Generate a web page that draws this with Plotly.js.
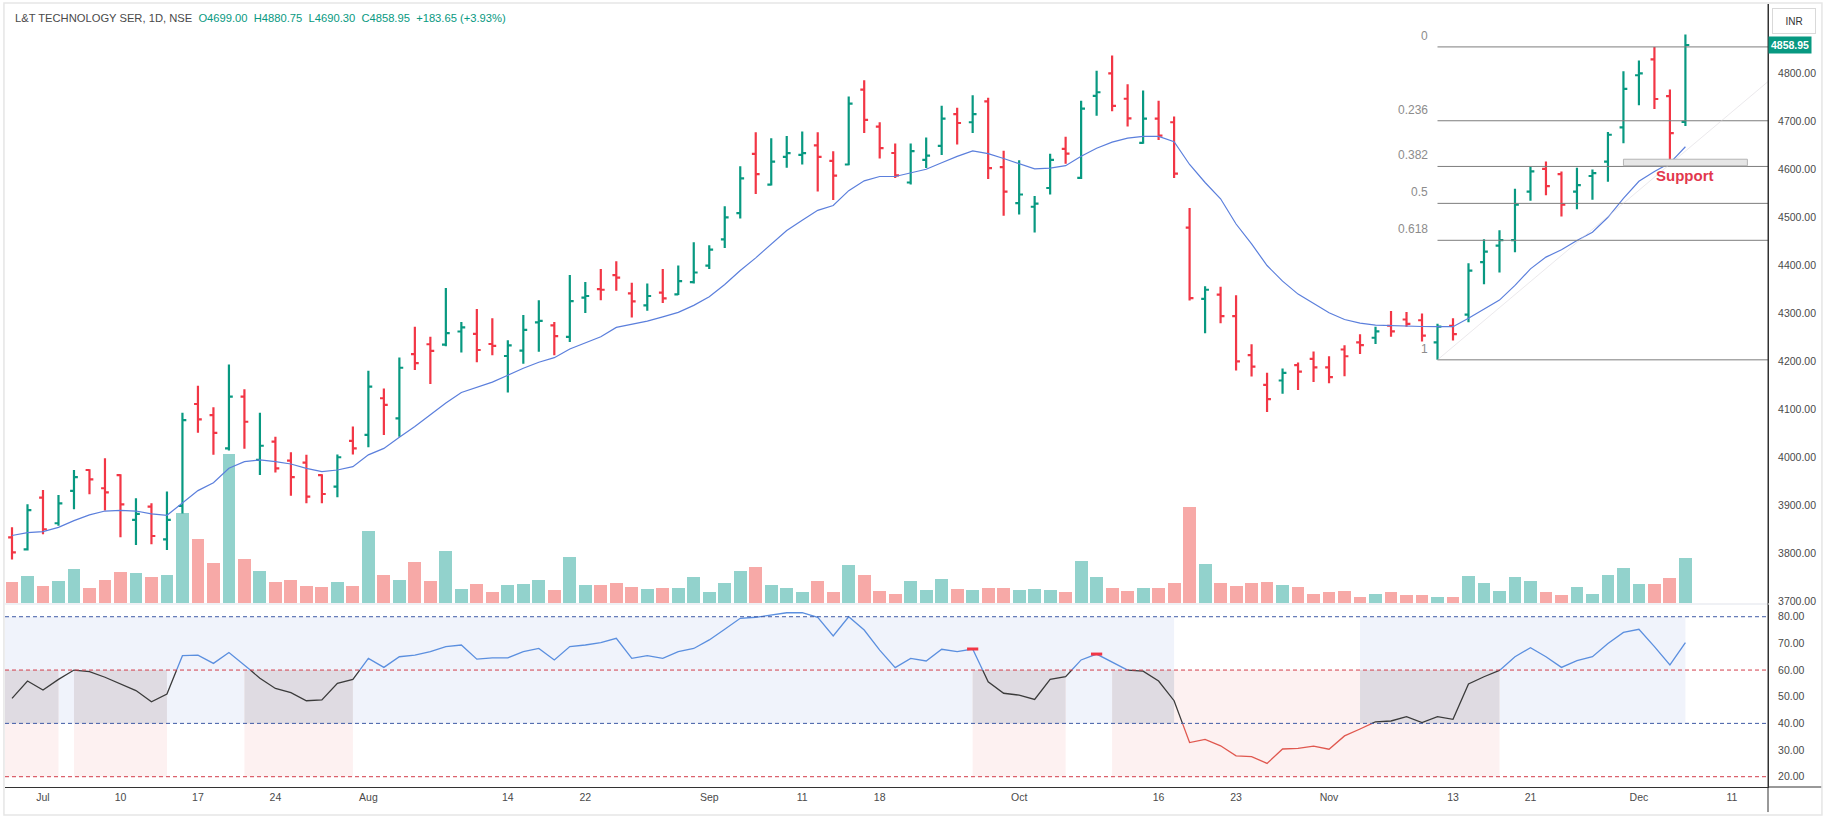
<!DOCTYPE html>
<html>
<head>
<meta charset="utf-8">
<title>L&amp;T Technology Services, 1D</title>
<script src="https://cdn.plot.ly/plotly-3.0.1.min.js"></script>
<style>
  html, body { margin: 0; padding: 0; background: #fff; }
  #chart { width: 1826px; height: 818px; }
</style>
</head>
<body>
<div id="chart"></div>
<script>
// NSE daily sessions on the chart
var dates = [
  '2023-06-28', '2023-06-30',
  '2023-07-03', '2023-07-04', '2023-07-05', '2023-07-06', '2023-07-07', '2023-07-10', '2023-07-11', '2023-07-12', '2023-07-13', '2023-07-14',
  '2023-07-17', '2023-07-18', '2023-07-19', '2023-07-20', '2023-07-21', '2023-07-24', '2023-07-25', '2023-07-26', '2023-07-27', '2023-07-28', '2023-07-31',
  '2023-08-01', '2023-08-02', '2023-08-03', '2023-08-04', '2023-08-07', '2023-08-08', '2023-08-09', '2023-08-10', '2023-08-11', '2023-08-14', '2023-08-16',
  '2023-08-17', '2023-08-18', '2023-08-21', '2023-08-22', '2023-08-23', '2023-08-24', '2023-08-25', '2023-08-28', '2023-08-29', '2023-08-30', '2023-08-31',
  '2023-09-01', '2023-09-04', '2023-09-05', '2023-09-06', '2023-09-07', '2023-09-08', '2023-09-11', '2023-09-12', '2023-09-13', '2023-09-14', '2023-09-15',
  '2023-09-18', '2023-09-20', '2023-09-21', '2023-09-22', '2023-09-25', '2023-09-26', '2023-09-27', '2023-09-28', '2023-09-29',
  '2023-10-03', '2023-10-04', '2023-10-05', '2023-10-06', '2023-10-09', '2023-10-10', '2023-10-11', '2023-10-12', '2023-10-13', '2023-10-16',
  '2023-10-17', '2023-10-18', '2023-10-19', '2023-10-20', '2023-10-23', '2023-10-25', '2023-10-26', '2023-10-27', '2023-10-30', '2023-10-31',
  '2023-11-01', '2023-11-02', '2023-11-03', '2023-11-06', '2023-11-07', '2023-11-08', '2023-11-09', '2023-11-10', '2023-11-13', '2023-11-15',
  '2023-11-16', '2023-11-17', '2023-11-20', '2023-11-21', '2023-11-22', '2023-11-23', '2023-11-24', '2023-11-28', '2023-11-29', '2023-11-30',
  '2023-12-01', '2023-12-04', '2023-12-05', '2023-12-06'
];
// sessions after the last bar (empty space on the right of the chart)
var futureDates = ['2023-12-07', '2023-12-08', '2023-12-11', '2023-12-12', '2023-12-13', '2023-12-14'];

var openP = [
  3833, 3808, 3916, 3862.5, 3930, 3973.5, 3935.5, 3963, 3869.5, 3897,
  3829, 3898.5, 4111, 4088, 4018.5, 4126.5, 3994.5, 4032.5, 3993, 3989,
  3963, 3939, 4034, 4046.5, 4123, 4081, 4215, 4235.5, 4234.5, 4262,
  4257, 4236, 4211, 4222, 4281, 4275, 4251, 4332.5, 4350.5, 4379.5,
  4341.5, 4316.5, 4343, 4339.5, 4365, 4399.5, 4454, 4508.5, 4632, 4568,
  4626, 4630, 4650, 4617.5, 4610, 4766, 4689, 4634, 4572.5, 4619.5,
  4649, 4715, 4698, 4741.5, 4604.5, 4529.5, 4522, 4561, 4642.5, 4582,
  4753, 4800, 4747, 4655, 4705.5, 4698, 4478.5, 4330, 4339, 4294,
  4213, 4151, 4160, 4192, 4205, 4187.5, 4224.5, 4239.5, 4249, 4274,
  4287, 4285.5, 4239.5, 4274, 4297, 4406.5, 4441, 4452.5, 4553.5, 4601,
  4590, 4553.5, 4586, 4616, 4687.5, 4796, 4829, 4752.5, 4699
];
var highP = [
  3854, 3902, 3932, 3921.5, 3973.5, 3975, 3998, 3964.5, 3914.5, 3904,
  3928.5, 4093, 4149, 4104, 4193.5, 4141.5, 4093, 4043, 4010.5, 4005,
  3964.5, 4006, 4064, 4180.5, 4143.5, 4208, 4272, 4251, 4352.5, 4282,
  4309, 4289.5, 4244, 4296.5, 4327, 4282, 4380, 4365, 4392.5, 4408.5,
  4363.5, 4362, 4392.5, 4399.5, 4448, 4442, 4523, 4606.5, 4677, 4664.5,
  4669.5, 4679, 4677, 4637.5, 4751.5, 4785.5, 4698, 4653.5, 4653.5, 4666.5,
  4732.5, 4728, 4754.5, 4749, 4638.5, 4619, 4544.5, 4632.5, 4668, 4743,
  4805.5, 4837, 4777, 4764, 4743, 4710, 4519.5, 4356.5, 4355.5, 4337.5,
  4235.5, 4176, 4185, 4197.5, 4220.5, 4210.5, 4233.5, 4256.5, 4272, 4304.5,
  4302.5, 4299.5, 4278, 4289.5, 4404, 4454, 4473, 4559.5, 4605.5, 4616,
  4595.5, 4603, 4599.5, 4677.5, 4804.5, 4826.5, 4855, 4766, 4880.75
];
var lowP = [
  3787, 3805.5, 3839.5, 3857.5, 3891.5, 3923, 3889, 3833.5, 3817, 3819,
  3807, 3883, 4051, 4005, 4014, 4017.5, 3963, 3968.5, 3920, 3904,
  3904, 3916.5, 4006, 4021, 4046.5, 4043, 4182, 4152.5, 4231.5, 4218.5,
  4198, 4212.5, 4135, 4195, 4220, 4212.5, 4240, 4300.5, 4327, 4347,
  4291, 4305.5, 4321.5, 4338, 4362, 4392.5, 4436, 4497.5, 4548.5, 4566.5,
  4603, 4610, 4553.5, 4536, 4608.5, 4675.5, 4622.5, 4582, 4568.5, 4602.5,
  4630, 4651.5, 4675.5, 4580, 4503, 4506, 4468.5, 4547.5, 4611.5, 4580,
  4711.5, 4721, 4689, 4653, 4661, 4582, 4326.5, 4258.5, 4279, 4181,
  4168.5, 4094.5, 4132.5, 4140, 4157, 4154, 4169, 4215, 4236, 4251,
  4272, 4241, 4203, 4243.5, 4281.5, 4360.5, 4385, 4427, 4534.5, 4546,
  4501.5, 4516.5, 4536.5, 4574, 4654.5, 4733.5, 4725.5, 4618.5, 4690.3
];
var closeP = [
  3802, 3890, 3850, 3904, 3958.5, 3954, 3927, 3902, 3882, 3836,
  3869.5, 4077.5, 4079, 4051, 4126.5, 4074, 4024, 3977, 3958.5, 3918,
  3923.5, 4000, 4018.5, 4147, 4109, 4186.5, 4196, 4221.5, 4258.5, 4270.5,
  4223.5, 4232, 4233, 4265.5, 4284, 4252.5, 4325.5, 4336, 4349, 4374.5,
  4325, 4336, 4331, 4367, 4385, 4432.5, 4500, 4581, 4590, 4616,
  4633.5, 4633.5, 4626, 4587, 4737, 4703, 4644, 4587.5, 4638, 4628.5,
  4705.5, 4696.5, 4715, 4602.5, 4553.5, 4547.5, 4528.5, 4619.5, 4632.5, 4726.5,
  4760.5, 4732, 4706, 4705.5, 4670, 4591, 4331.5, 4349, 4294, 4200,
  4189, 4121, 4176, 4178.5, 4187.5, 4167, 4210.5, 4233.5, 4262.5, 4262.5,
  4278, 4253.5, 4272, 4256.5, 4389, 4428.5, 4452.5, 4526.5, 4595.5, 4565,
  4526.5, 4567, 4592, 4672, 4767.5, 4800, 4746.5, 4675.3, 4858.95
];
// thousand shares
var volume = [
  130, 166, 106, 136, 206, 92, 140, 190, 180, 156,
  172, 542, 386, 242, 896, 266, 196, 130, 140, 106,
  96, 130, 106, 436, 172, 140, 250, 135, 316, 86,
  119, 71, 113, 119, 140, 82, 280, 113, 113, 123,
  98, 86, 92, 92, 159, 71, 123, 192, 221, 113,
  92, 71, 134, 71, 232, 172, 74, 58, 134, 80,
  145, 85, 80, 95, 95, 80, 85, 80, 70, 253,
  158, 91, 74, 95, 95, 121, 576, 236, 121, 102,
  121, 128, 110, 97, 59, 66, 73, 40, 59, 71,
  49, 49, 37, 40, 166, 121, 77, 161, 132, 66,
  49, 99, 59, 172, 214, 115, 115, 154, 271
];
// moving average (blue line)
var ma = [
  3837, 3843, 3845, 3854, 3868, 3880, 3888, 3889.5, 3888, 3882,
  3879, 3904, 3930.5, 3947, 3977, 3991, 3994.5, 3991, 3986, 3977,
  3970, 3973.5, 3980.5, 4005, 4018.5, 4041.5, 4064, 4088.5, 4113, 4135,
  4146, 4156.5, 4171, 4185.5, 4198, 4207.5, 4225.5, 4238.5, 4251, 4270.5,
  4276.5, 4283.5, 4292.5, 4302, 4316.5, 4334.5, 4360, 4389, 4415.5, 4443,
  4472.5, 4494, 4514.5, 4524.5, 4555.5, 4576, 4585, 4585, 4592.5, 4600,
  4613.5, 4627, 4638.5, 4632.5, 4622.5, 4611.5, 4601, 4602.5, 4607.5, 4627,
  4644, 4656.5, 4665, 4668.5, 4668.5, 4657.5, 4610, 4572.5, 4538.5, 4486,
  4444.5, 4399.5, 4367, 4340, 4320, 4301, 4287, 4279.5, 4275.5, 4274,
  4273.5, 4272.5, 4272, 4272, 4289.5, 4308.5, 4327.5, 4358, 4392.5, 4417,
  4432.5, 4451.5, 4469, 4500, 4539.5, 4575, 4595.5, 4613, 4647
];
var rsi = [
  49.4, 55.9, 52.5, 56.5, 60, 59.4, 57.3, 54.8, 52.3, 48.1,
  51, 65.4, 65.6, 62.5, 66.6, 61.9, 56.9, 53.1, 51.5, 48.5,
  48.8, 55, 56.5, 64.4, 61, 65, 65.6, 66.9, 68.8, 69.4,
  64.1, 64.6, 64.6, 66.9, 68.1, 63.8, 68.8, 69.4, 70.3, 71.9,
  64.4, 65.4, 64.4, 66.9, 68.1, 71.3, 75.3, 79.4, 79.8, 80.6,
  81.5, 81.5, 79.8, 72.8, 80, 75, 67.5, 60.9, 64.4, 63.4,
  67.8, 66.9, 67.9, 55.6, 51.3, 50.6, 49, 56.5, 57.5, 63.8,
  66, 62.9, 60, 59.6, 55.9, 48.5, 32.8, 34, 31.6, 27.8,
  27.5, 25, 30.4, 30.6, 31.5, 30.3, 35.3, 37.9, 40.6, 40.9,
  42.5, 40.3, 42.5, 41.5, 54.8, 57.5, 59.8, 65, 68.4, 65,
  61, 63.5, 65, 70, 74.1, 75.3, 68.8, 61.9, 70.3
];

var tickDates = ['2023-07-03', '2023-07-10', '2023-07-17', '2023-07-24', '2023-08-01', '2023-08-14', '2023-08-22',
  '2023-09-01', '2023-09-11', '2023-09-18', '2023-10-03', '2023-10-16', '2023-10-23', '2023-11-01', '2023-11-13',
  '2023-11-21', '2023-12-01', '2023-12-11'];
var tickNames = ['Jul', '10', '17', '24', 'Aug', '14', '22', 'Sep', '11', '18', 'Oct', '16', '23', 'Nov', '13', '21', 'Dec', '11'];
var priceTicks = [3700, 3800, 3900, 4000, 4100, 4200, 4300, 4400, 4500, 4600, 4700, 4800];
var rsiTicks = [20, 30, 40, 50, 60, 70, 80];

// RSI regimes: bullish band 40-80, bearish band 20-60
var bullZones = [['2023-06-28', '2023-10-17'], ['2023-11-03', '2023-12-06']];
var bearZones = [['2023-06-28', '2023-07-04'], ['2023-07-05', '2023-07-13'], ['2023-07-20', '2023-07-31'],
  ['2023-09-27', '2023-10-06'], ['2023-10-11', '2023-11-17']];
var rsiSignalDates = ['2023-09-27', '2023-10-10'];

// drawings
var fibLevels = [0, 0.236, 0.382, 0.5, 0.618, 1];
var fibHigh = 4855, fibLow = 4203, fibFrom = '2023-11-10';
var supportFrom = '2023-11-30', supportTo = '2023-12-12', supportLow = 4607.5, supportHigh = 4621;
var supportLabel = ['2023-12-06', 4587];
var trendFrom = ['2023-11-10', 4203], trendTo = ['2023-12-14', 4801];

var allDates = dates.concat(futureDates);
function idx(d) { return allDates.indexOf(d); }
var xs = dates.map(function (d, i) { return i; });
var xRange = [-0.452, 113.33];

var upColor = '#089981', downColor = '#F23645';
var volColors = closeP.map(function (c, i) {
  return c >= openP[i] ? 'rgba(38,166,154,0.5)' : 'rgba(239,83,80,0.5)';
});

// split the RSI line by level so each part gets its own colour
function rsiPart(lo, hi) {
  var px = [], py = [], lastEnd = null;
  for (var i = 0; i < rsi.length - 1; i++) {
    var a = rsi[i], b = rsi[i + 1], t0 = 0, t1 = 1;
    if (a !== b) {
      var ta = (lo - a) / (b - a), tb = (hi - a) / (b - a);
      t0 = Math.max(0, Math.min(ta, tb));
      t1 = Math.min(1, Math.max(ta, tb));
    } else if (a < lo || a > hi) continue;
    if (t1 <= t0) continue;
    if (lastEnd !== null && Math.abs(lastEnd - (i + t0)) < 1e-9) {
      px.push(i + t1); py.push(a + (b - a) * t1);
    } else {
      if (px.length) { px.push(null); py.push(null); }
      px.push(i + t0, i + t1); py.push(a + (b - a) * t0, a + (b - a) * t1);
    }
    lastEnd = i + t1;
  }
  return {x: px, y: py};
}
var rsiHigh = rsiPart(60, 100), rsiMid = rsiPart(40, 60), rsiLow = rsiPart(0, 40);

var data = [
  {
    x: xs, y: volume, type: 'bar', yaxis: 'y', width: 0.83,
    marker: {color: volColors, line: {width: 0}}, hoverinfo: 'skip'
  },
  {
    x: xs, open: openP, high: highP, low: lowP, close: closeP, type: 'ohlc', yaxis: 'y2',
    tickwidth: 0.25,
    increasing: {line: {color: upColor, width: 2.2}},
    decreasing: {line: {color: downColor, width: 2.2}},
    hoverinfo: 'skip'
  },
  {
    x: xs, y: ma, type: 'scatter', mode: 'lines', yaxis: 'y2',
    line: {color: '#5b7fdc', width: 1.2}, hoverinfo: 'skip'
  },
  {x: rsiMid.x, y: rsiMid.y, type: 'scatter', mode: 'lines', yaxis: 'y3', line: {color: '#3b3b3b', width: 1.3}},
  {x: rsiHigh.x, y: rsiHigh.y, type: 'scatter', mode: 'lines', yaxis: 'y3', line: {color: '#5b8fdf', width: 1.3}},
  {x: rsiLow.x, y: rsiLow.y, type: 'scatter', mode: 'lines', yaxis: 'y3', line: {color: '#e0584f', width: 1.3}},
  {
    x: rsiSignalDates.map(idx), y: rsiSignalDates.map(function (d) { return rsi[idx(d)]; }),
    type: 'scatter', mode: 'markers', yaxis: 'y3',
    marker: {symbol: 'line-ew', size: 8, line: {color: '#F23645', width: 3}}
  }
];

var shapes = [];
// RSI regime backgrounds
function zoneStart(d) { return d === dates[0] ? -1 : idx(d); }
bullZones.forEach(function (z) {
  shapes.push({type: 'rect', layer: 'below', xref: 'x', yref: 'y3', x0: zoneStart(z[0]), x1: idx(z[1]), y0: 40, y1: 80,
    fillcolor: '#f0f3fb', line: {width: 0}});
});
bearZones.forEach(function (z) {
  shapes.push({type: 'rect', layer: 'below', xref: 'x', yref: 'y3', x0: zoneStart(z[0]), x1: idx(z[1]), y0: 20, y1: 60,
    fillcolor: '#fdf1f1', line: {width: 0}});
});
bearZones.forEach(function (z) {
  bullZones.forEach(function (b) {
    var a0 = Math.max(zoneStart(z[0]), zoneStart(b[0])), a1 = Math.min(idx(z[1]), idx(b[1]));
    if (a1 > a0) {
      shapes.push({type: 'rect', layer: 'below', xref: 'x', yref: 'y3', x0: a0, x1: a1, y0: 40, y1: 60,
        fillcolor: '#dfdbe2', line: {width: 0}});
    }
  });
});
// RSI reference levels
[[80, '#3f5aa6'], [60, '#d23c4a'], [40, '#3f5aa6'], [20, '#d23c4a']].forEach(function (l) {
  shapes.push({type: 'line', xref: 'paper', yref: 'y3', x0: 0, x1: 1, y0: l[0], y1: l[0],
    line: {color: l[1], width: 1, dash: '4px,3px'}});
});
// fibonacci retracement
fibLevels.forEach(function (lv) {
  var p = fibHigh - lv * (fibHigh - fibLow);
  shapes.push({type: 'line', xref: 'x', yref: 'y2', x0: idx(fibFrom), x1: xRange[1], y0: p, y1: p,
    line: {color: '#7d7d7d', width: 1}});
});
// trend line and support zone
shapes.push({type: 'line', xref: 'x', yref: 'y2', x0: idx(trendFrom[0]), y0: trendFrom[1], x1: idx(trendTo[0]), y1: trendTo[1],
  line: {color: 'rgba(215,212,218,0.5)', width: 1}});
shapes.push({type: 'rect', xref: 'x', yref: 'y2', x0: idx(supportFrom), x1: idx(supportTo), y0: supportLow, y1: supportHigh,
  fillcolor: '#e6e6e6', line: {color: '#b5b5b5', width: 1}});
// frame, pane separator and axis extensions
shapes.push({type: 'line', xref: 'paper', yref: 'paper', x0: 0, x1: 1, y0: 0.2337, y1: 0.2337, line: {color: '#e0e3eb', width: 1}});
shapes.push({type: 'line', xref: 'paper', yref: 'paper', x0: 1, x1: 1, y0: -0.032, y1: 1, line: {color: '#333', width: 1}});
shapes.push({type: 'line', xref: 'paper', yref: 'paper', x0: 1, x1: 1.0306, y0: 0, y1: 0, line: {color: '#333', width: 1}});
shapes.push({type: 'rect', xref: 'paper', yref: 'paper', x0: -0.0006, x1: 1.0306, y0: -0.0358, y1: 1.0013,
  line: {color: '#e6e6e6', width: 1.5}});

var last = closeP.length - 1;
var chg = closeP[last] - closeP[last - 1];
var header = 'L&amp;T TECHNOLOGY SER, 1D, NSE&nbsp;&nbsp;<span style="color:#089981">O' + openP[last].toFixed(2) +
  '&nbsp;&nbsp;H' + highP[last].toFixed(2) + '&nbsp;&nbsp;L' + lowP[last].toFixed(2) + '&nbsp;&nbsp;C' + closeP[last].toFixed(2) +
  '&nbsp;&nbsp;+' + chg.toFixed(2) + ' (+' + (chg / closeP[last - 1] * 100).toFixed(2) + '%)</span>';

var annotations = [
  {xref: 'paper', yref: 'paper', x: 0.0043, y: 0.982, xanchor: 'left', yanchor: 'middle', showarrow: false,
    text: header, font: {size: 11.2, color: '#4a4a4a'}},
  {xref: 'paper', yref: 'paper', x: 1.0148, y: 0.9783, xanchor: 'center', yanchor: 'middle', showarrow: false,
    text: 'INR', font: {size: 10, color: '#333'}, bordercolor: '#d9d9d9', borderwidth: 1, borderpad: 5, width: 32, height: 14, bgcolor: '#fff'},
  {xref: 'paper', yref: 'y2', x: 1, y: closeP[last], xanchor: 'left', yanchor: 'middle', showarrow: false,
    text: '<b>' + closeP[last].toFixed(2) + '</b>', font: {size: 10.5, color: '#fff'}, bgcolor: upColor, borderpad: 2},
  {xref: 'x', yref: 'y2', x: idx(supportLabel[0]), y: supportLabel[1], showarrow: false,
    text: '<b>Support</b>', font: {size: 15, color: '#E2384D'}}
];
fibLevels.forEach(function (lv) {
  annotations.push({xref: 'x', yref: 'y2', x: idx(fibFrom), y: fibHigh - lv * (fibHigh - fibLow),
    xanchor: 'right', yanchor: 'middle', xshift: -8, yshift: 11, showarrow: false,
    text: String(lv), font: {size: 12, color: '#8c8c8c'}});
});

var axisFont = {size: 10.5, color: '#4a4a4a'};
var layout = {
  width: 1826,
  height: 818,
  margin: {l: 5, r: 58, t: 4, b: 31},
  paper_bgcolor: '#fff',
  plot_bgcolor: '#fff',
  font: {family: 'Liberation Sans, Arial, sans-serif'},
  showlegend: false,
  hovermode: false,
  bargap: 0,
  xaxis: {
    anchor: 'y3', range: xRange, showgrid: false, zeroline: false,
    showline: true, linecolor: '#333', linewidth: 1, ticks: '',
    tickvals: tickDates.map(idx), ticktext: tickNames, tickfont: axisFont,
    rangeslider: {visible: false}
  },
  yaxis: {domain: [0.2344, 1], range: [0, 3597], visible: false, fixedrange: true},
  yaxis2: {
    overlaying: 'y', side: 'right', anchor: 'x', range: [3695.4, 4944.4],
    showgrid: false, zeroline: false, showline: true, linecolor: '#333', linewidth: 1, ticks: '',
    tickvals: priceTicks, ticktext: priceTicks.map(function (v) { return v.toFixed(2); }),
    tickfont: axisFont, ticklabelstandoff: 7
  },
  yaxis3: {
    domain: [0, 0.2324], side: 'right', anchor: 'x', range: [16.14, 84.39],
    showgrid: false, zeroline: false, showline: true, linecolor: '#333', linewidth: 1, ticks: '',
    tickvals: rsiTicks, ticktext: rsiTicks.map(function (v) { return v.toFixed(2); }),
    tickfont: axisFont, ticklabelstandoff: 7
  },
  shapes: shapes,
  annotations: annotations
};

Plotly.newPlot('chart', data, layout, {displayModeBar: false, staticPlot: true});
</script>
</body>
</html>
